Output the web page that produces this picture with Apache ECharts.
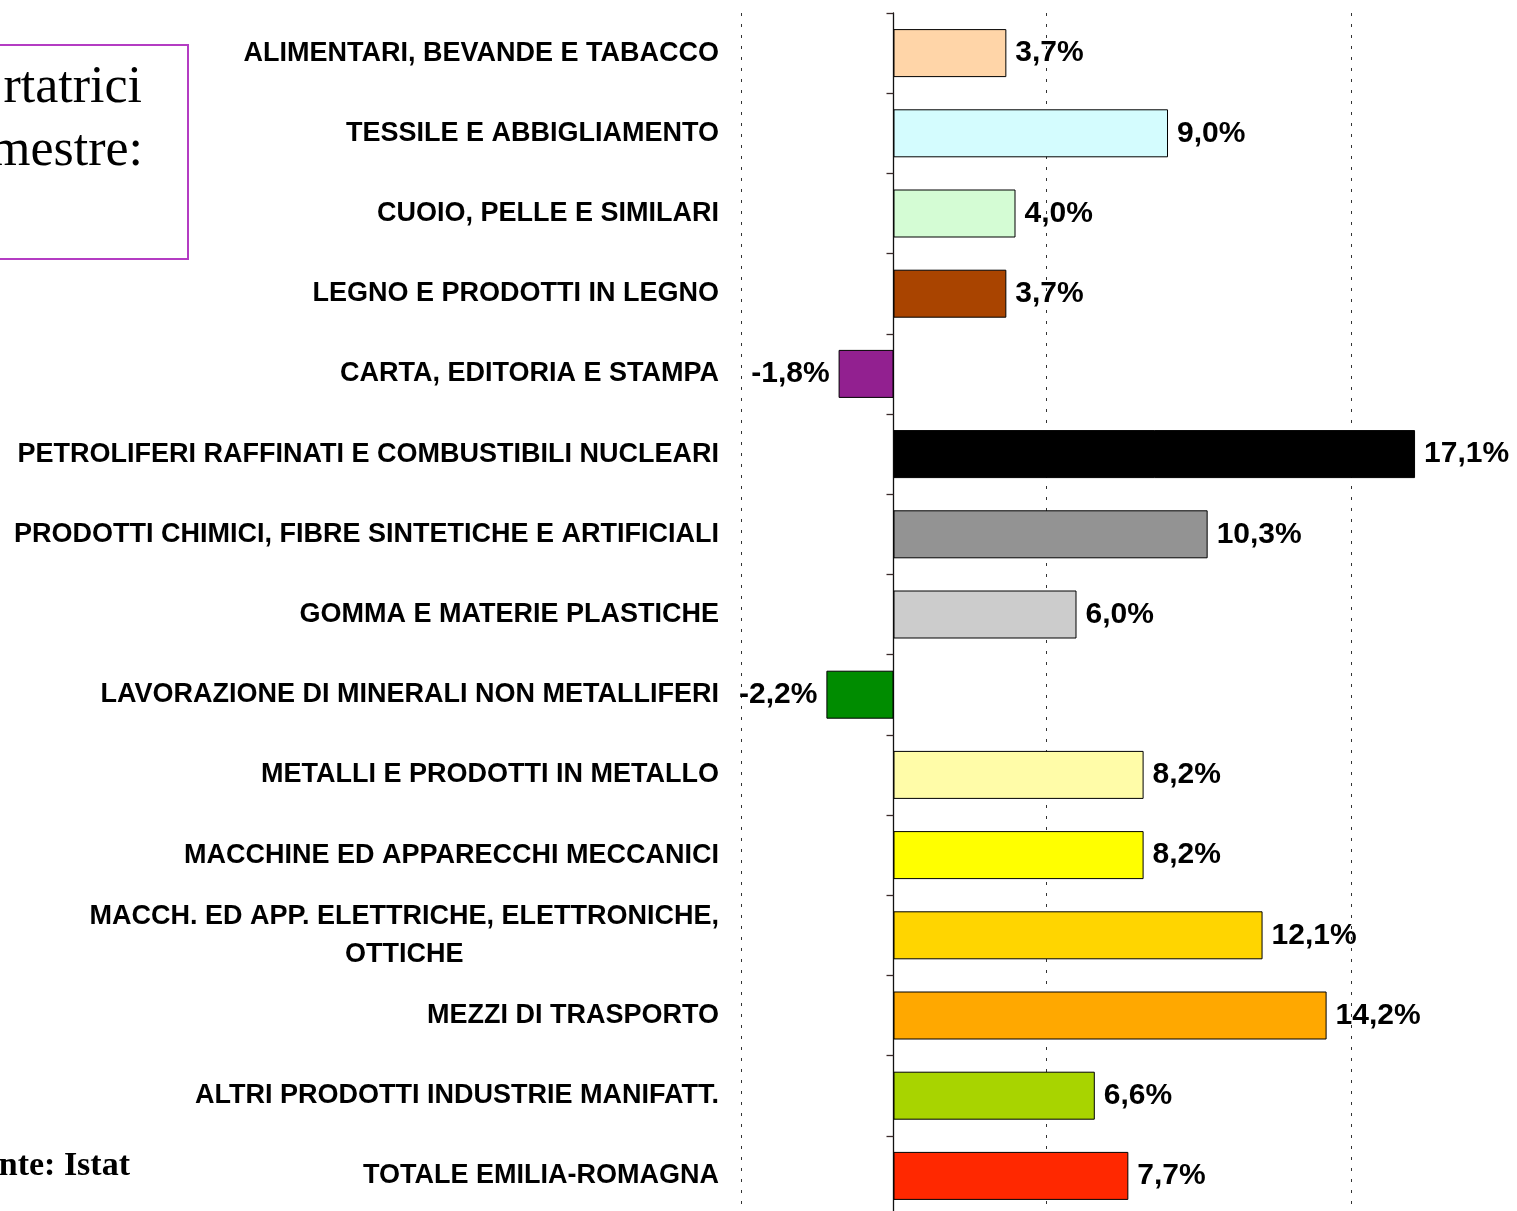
<!DOCTYPE html>
<html>
<head>
<meta charset="utf-8">
<script src="https://cdn.jsdelivr.net/npm/echarts@6/dist/echarts.min.js"></script>
<style>
html,body{margin:0;padding:0;background:#fff;}
#chart{width:1517px;height:1211px;}
</style>
</head>
<body>
<div id="chart"></div>
<script>
const categories = [
  'ALIMENTARI, BEVANDE E TABACCO',
  'TESSILE E ABBIGLIAMENTO',
  'CUOIO, PELLE E SIMILARI',
  'LEGNO E PRODOTTI IN LEGNO',
  'CARTA, EDITORIA E STAMPA',
  'PETROLIFERI RAFFINATI E COMBUSTIBILI NUCLEARI',
  'PRODOTTI CHIMICI, FIBRE SINTETICHE E ARTIFICIALI',
  'GOMMA E MATERIE PLASTICHE',
  'LAVORAZIONE DI MINERALI NON METALLIFERI',
  'METALLI E PRODOTTI IN METALLO',
  'MACCHINE ED APPARECCHI MECCANICI',
  'MACCH. ED APP. ELETTRICHE, ELETTRONICHE,\nOTTICHE',
  'MEZZI DI TRASPORTO',
  'ALTRI PRODOTTI INDUSTRIE MANIFATT.',
  'TOTALE EMILIA-ROMAGNA'
];
const values = [3.7, 9.0, 4.0, 3.7, -1.8, 17.1, 10.3, 6.0, -2.2, 8.2, 8.2, 12.1, 14.2, 6.6, 7.7];
const barColors = [
  '#FFD5A8', '#D4FCFE', '#D4FCD4', '#A94400', '#922090', '#000000', '#939393', '#CCCCCC',
  '#008C00', '#FFFCA8', '#FFFF00', '#FFD500', '#FFA800', '#A8D400', '#FF2800'
];
const boxLines = ['rtatrici', 'mestre:'];
const sourceText = 'nte: Istat';

const labelFont = '"Liberation Sans", Arial, sans-serif';
const measureCtx = document.createElement('canvas').getContext('2d');
measureCtx.font = 'bold 27px "Liberation Sans", Arial, sans-serif';

const chart = echarts.init(document.getElementById('chart'));
chart.setOption({
  animation: false,
  backgroundColor: '#fff',
  grid: { left: 741, right: 13.5, top: 13, height: 1203, containLabel: false, outerBoundsMode: 'none' },
  xAxis: {
    type: 'value', min: -5, max: 20, interval: 10,
    axisLabel: { show: false }, axisLine: { show: false }, axisTick: { show: false },
    splitLine: { show: true, showMinLine: true, showMaxLine: false,
      lineStyle: { color: '#333', width: 1, type: [3, 8] } }
  },
  yAxis: [
    {
      type: 'category', data: categories, inverse: true, position: 'left',
      axisLine: { show: false, onZero: false }, axisTick: { show: false },
      axisLabel: {
        margin: 22, color: '#000', fontFamily: labelFont, fontWeight: 'bold', fontSize: 27,
        lineHeight: 38,
        formatter: function (v) {
          if (v.indexOf('\n') < 0) return v;
          const parts = v.split('\n');
          return '{a|' + parts[0] + '}\n{b|' + parts[1] + '}';
        },
        rich: {
          a: { fontFamily: labelFont, fontWeight: 'bold', fontSize: 27, lineHeight: 38, color: '#000' },
          b: { fontFamily: labelFont, fontWeight: 'bold', fontSize: 27, lineHeight: 38, color: '#000',
               width: measureCtx.measureText('MACCH. ED APP. ELETTRICHE, ELETTRONICHE,').width, align: 'center' }
        }
      },
      splitLine: { show: false }
    },
    {
      type: 'category', data: categories, inverse: true, position: 'left',
      axisLine: { show: true, onZero: true, lineStyle: { color: '#111', width: 1.3 } },
      axisTick: { show: true, length: 7, inside: false, lineStyle: { color: '#3a2a2a', width: 1.3 } },
      axisLabel: { show: false },
      splitLine: { show: false }
    }
  ],
  series: [{
    type: 'bar',
    yAxisIndex: 0,
    barWidth: 48,
    z: 1,
    data: values.map((v, i) => ({
      value: v,
      itemStyle: { color: barColors[i], borderColor: '#000', borderWidth: 1 },
      label: { position: v < 0 ? 'left' : 'right' }
    })),
    label: {
      show: true, distance: 9, color: '#000', fontFamily: labelFont, fontWeight: 'bold', fontSize: 30,
      formatter: p => p.value.toFixed(1).replace('.', ',') + '%'
    }
  }],
  graphic: [
    { type: 'rect', shape: { x: -10, y: 45, width: 198, height: 214 },
      style: { fill: 'none', stroke: '#B43CC3', lineWidth: 2 } },
    { type: 'text', x: 142, y: 88,
      style: { text: boxLines[0], fill: '#000', font: '52px "Liberation Serif", "Times New Roman", serif', align: 'right', verticalAlign: 'middle' } },
    { type: 'text', x: 143, y: 151,
      style: { text: boxLines[1], fill: '#000', font: '52px "Liberation Serif", "Times New Roman", serif', align: 'right', verticalAlign: 'middle' } },
    { type: 'text', x: 130, y: 1166,
      style: { text: sourceText, fill: '#000', font: 'bold 34px "Liberation Serif", "Times New Roman", serif', align: 'right', verticalAlign: 'middle' } }
  ]
});
</script>
</body>
</html>
